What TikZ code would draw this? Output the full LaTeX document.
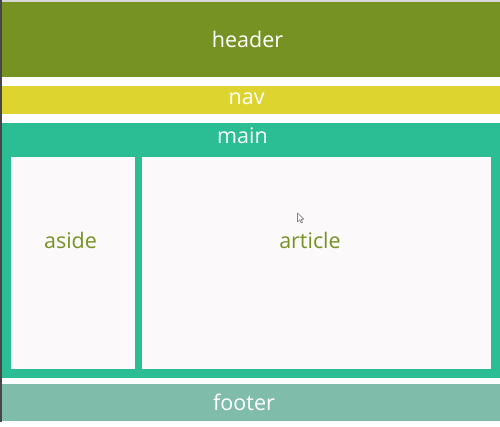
\documentclass[tikz,border=0pt]{standalone}
\usepackage{fontspec}
\setmainfont{Open Sans}
\definecolor{hdrc}{RGB}{118,146,34}
\definecolor{navc}{RGB}{221,212,47}
\definecolor{mainc}{RGB}{43,189,147}
\definecolor{footc}{RGB}{127,189,170}
\definecolor{panelc}{RGB}{251,249,250}
\definecolor{edgec}{RGB}{70,70,70}
\definecolor{topc}{RGB}{215,215,215}
\begin{document}
\begin{tikzpicture}[x=1pt,y=-1pt,
  box/.style={rectangle,draw=none,inner sep=0pt,outer sep=0pt},
  lbl/.style={anchor=base,inner sep=0pt,font=\fontsize{21.5}{25}\selectfont},
  wlbl/.style={lbl,text=white},
  glbl/.style={lbl,text=hdrc}]
\useasboundingbox (0,0) rectangle (500,427);
\fill[white] (0,0) rectangle (500,427);
% frame lines of the screenshot
\fill[topc] (0,0) rectangle (500,2);
\fill[edgec] (0,0) rectangle (2,421.5);
% boxes
\node[box,fill=hdrc,minimum width=498pt,minimum height=75pt] (header) at (251,39.5) {};
\node[box,fill=navc,minimum width=498pt,minimum height=28pt] (nav) at (251,100) {};
\node[box,fill=mainc,minimum width=498pt,minimum height=255pt] (main) at (251,250.5) {};
\node[box,fill=panelc,minimum width=124pt,minimum height=211pt] (aside) at (73,263) {};
\node[box,fill=panelc,minimum width=349pt,minimum height=211pt] (article) at (316.5,263) {};
\node[box,fill=footc,minimum width=498pt,minimum height=37pt] (footer) at (251,402.5) {};
% labels
\node[wlbl] (headerlbl) at (247.5,47.7) {header};
\node[wlbl] (navlbl) at (246.6,105) {nav};
\node[wlbl] (mainlbl) at (242.5,144) {main};
\node[glbl] (asidelbl) at (70.5,249) {aside};
\node[glbl] (articlelbl) at (310,249) {article};
\node[wlbl] (footerlbl) at (244,410) {footer};
% mouse pointer
\begin{scope}[shift={(297.5,213)},scale=0.85]
\filldraw[fill=white,draw=gray,line width=0.6pt,line join=round]
  (0,0) -- (0,10.5) -- (2.6,8) -- (4.4,11.6) -- (6,10.8) -- (4.2,7.4) -- (7.6,7.4) -- cycle;
\end{scope}
\end{tikzpicture}
\end{document}
